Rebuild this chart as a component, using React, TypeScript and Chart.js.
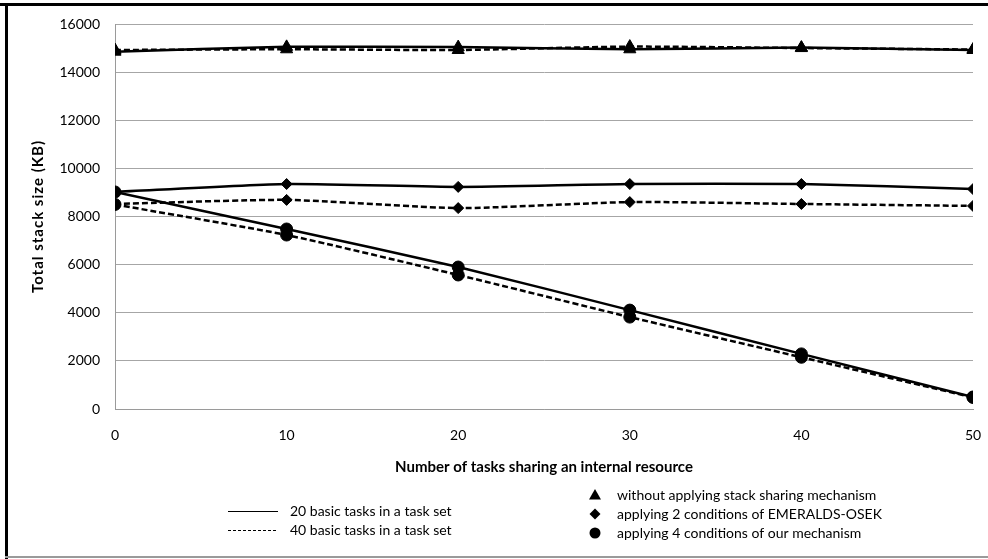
import React, { useEffect, useRef } from "react";
import { Chart, registerables } from "chart.js";

Chart.register(...registerables);

const xValues = [0, 10, 20, 30, 40, 50];
const withoutSharing20 = [14850, 15050, 15040, 14950, 15020, 14920];
const withoutSharing40 = [14920, 14950, 14920, 15060, 15000, 14940];
const emeralds20 = [9020, 9350, 9230, 9350, 9350, 9140];
const emeralds40 = [8520, 8690, 8350, 8600, 8520, 8440];
const ours20 = [9020, 7480, 5900, 4110, 2290, 500];
const ours40 = [8500, 7230, 5570, 3820, 2150, 480];

const lineLegend = ["20 basic tasks in a task set", "40 basic tasks in a task set"];
const markerLegend = [
  "without applying stack sharing mechanism",
  "applying 2 conditions of EMERALDS-OSEK",
  "applying 4 conditions of our mechanism",
];
const xTitle = "Number of tasks sharing an internal resource";
const yTitle = "Total stack size (KB)";

const FONT = "Lato, 'Open Sans', sans-serif";

const toPoints = (arr: number[]) => arr.map((y, i) => ({ x: xValues[i], y }));

function drawMarker(ctx: CanvasRenderingContext2D, style: string, x: number, y: number, r: number) {
  ctx.beginPath();
  if (style === "triangle") {
    ctx.moveTo(x, y - r);
    ctx.lineTo(x + r, y + r * 0.75);
    ctx.lineTo(x - r, y + r * 0.75);
    ctx.closePath();
  } else if (style === "rectRot") {
    ctx.moveTo(x, y - r);
    ctx.lineTo(x + r, y);
    ctx.lineTo(x, y + r);
    ctx.lineTo(x - r, y);
    ctx.closePath();
  } else {
    ctx.arc(x, y, r, 0, Math.PI * 2);
  }
  ctx.fillStyle = "#000";
  ctx.fill();
}

const framePlugin = {
  id: "frame",
  beforeDraw(chart: any) {
    const { ctx, width, height } = chart;
    ctx.save();
    ctx.fillStyle = "#ffffff";
    ctx.fillRect(0, 0, width, height);
    ctx.fillStyle = "#000000";
    ctx.fillRect(0, 3, width, 3);
    ctx.fillRect(5, 3, 3, height - 3);
    ctx.fillStyle = "#9a9a9a";
    ctx.fillRect(5, height - 3, width - 5, 2);
    ctx.restore();
  },
  afterDraw(chart: any) {
    const { ctx, chartArea } = chart;
    ctx.save();
    ctx.translate(38, (chartArea.top + chartArea.bottom) / 2);
    ctx.rotate(-Math.PI / 2);
    ctx.font = `bold 15px ${FONT}`;
    (ctx as any).letterSpacing = "1px";
    ctx.textAlign = "center";
    ctx.textBaseline = "middle";
    ctx.fillStyle = "#000";
    ctx.fillText(yTitle, 0, 0);
    ctx.restore();

    ctx.save();
    ctx.fillStyle = "#000";
    ctx.strokeStyle = "#000";
    ctx.font = `14px ${FONT}`;
    ctx.textBaseline = "middle";
    const lineYs = [511, 530];
    lineLegend.forEach((t, i) => {
      ctx.beginPath();
      ctx.lineWidth = 1;
      ctx.setLineDash(i === 0 ? [] : [3, 2]);
      ctx.moveTo(228, lineYs[i] + 0.5);
      ctx.lineTo(278, lineYs[i] + 0.5);
      ctx.stroke();
      ctx.setLineDash([]);
      ctx.fillText(t, 290, lineYs[i]);
    });
    const mYs = [495, 514, 533];
    const styles = ["triangle", "rectRot", "circle"];
    const radii = [6, 5.5, 5.5];
    markerLegend.forEach((t, i) => {
      drawMarker(ctx, styles[i], 595, mYs[i], radii[i]);
      ctx.fillStyle = "#000";
      ctx.fillText(t, 617, mYs[i]);
    });
    ctx.restore();
  },
};

function makeDataset(label: string, data: number[], dashed: boolean, pointStyle: string, radius: number) {
  return {
    label,
    data: toPoints(data),
    borderColor: "#000",
    backgroundColor: "#000",
    borderWidth: 2.5,
    borderDash: dashed ? [6, 3] : [],
    pointStyle,
    pointRadius: radius,
    pointBorderWidth: 1,
    pointBackgroundColor: "#000",
    pointBorderColor: "#000",
    tension: 0.2,
    fill: false,
  };
}

export default function App() {
  const ref = useRef<HTMLCanvasElement | null>(null);
  useEffect(() => {
    if (!ref.current) return;
    const chart = new Chart(ref.current, {
      type: "line",
      data: {
        datasets: [
          makeDataset("without 20", withoutSharing20, false, "triangle", 7),
          makeDataset("without 40", withoutSharing40, true, "triangle", 7),
          makeDataset("emeralds 20", emeralds20, false, "rectRot", 5.5),
          makeDataset("emeralds 40", emeralds40, true, "rectRot", 5.5),
          makeDataset("ours 20", ours20, false, "circle", 6),
          makeDataset("ours 40", ours40, true, "circle", 6),
        ] as any,
      },
      options: {
        animation: false,
        responsive: false,
        maintainAspectRatio: false,
        layout: { padding: { left: 10, right: 15, top: 24, bottom: 80 } },
        plugins: { legend: { display: false }, tooltip: { enabled: false } },
        scales: {
          x: {
            type: "linear",
            min: 0,
            max: 50,
            ticks: {
              stepSize: 10,
              color: "#000",
              padding: 18,
              font: { family: FONT, size: 14 },
              callback: (v: any) => String(v),
            },
            grid: { display: false, drawTicks: false },
            border: { display: true, color: "#9a9a9a", width: 1 },
            title: {
              display: true,
              text: xTitle,
              color: "#000",
              font: { family: FONT, size: 15, weight: "bold" },
              padding: { top: 4, bottom: 3 },
            },
            afterFit: (s: any) => {
              s.height = 70;
              s.paddingLeft = 0;
              s.paddingRight = 0;
            },
          },
          y: {
            min: 0,
            max: 16000,
            ticks: {
              stepSize: 2000,
              color: "#000",
              padding: 15,
              font: { family: FONT, size: 14 },
              callback: (v: any) => String(v),
            },
            grid: { color: "#a6a6a6", lineWidth: 1, drawTicks: false },
            border: { display: true, color: "#9a9a9a", width: 1 },
            title: { display: false },
            afterFit: (s: any) => {
              s.width = 105;
              s.paddingTop = 0;
              s.paddingBottom = 0;
            },
          },
        },
      } as any,
      plugins: [framePlugin],
    });
    return () => chart.destroy();
  }, []);
  return (
    <div style={{ position: "fixed", left: 0, top: 0, width: 988, height: 559, background: "#fff" }}>
      <canvas ref={ref} width={988} height={559} style={{ display: "block", width: 988, height: 559 }} />
    </div>
  );
}
